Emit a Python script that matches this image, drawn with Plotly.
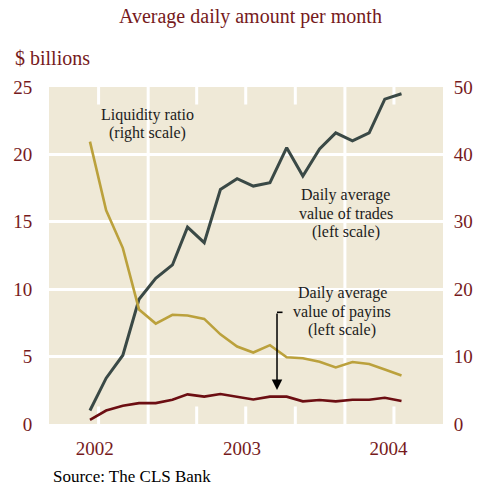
import plotly.graph_objects as go

# Monthly observations (mid-month), Sep 2002 - Apr 2004
months = [
    "2002-09-15", "2002-10-15", "2002-11-15", "2002-12-15",
    "2003-01-15", "2003-02-15", "2003-03-15", "2003-04-15",
    "2003-05-15", "2003-06-15", "2003-07-15", "2003-08-15",
    "2003-09-15", "2003-10-15", "2003-11-15", "2003-12-15",
    "2004-01-15", "2004-02-15", "2004-03-15", "2004-04-15",
]

# Daily average value of trades, $ billions (left scale)
trades = [1.0, 3.4, 5.1, 9.25, 10.8, 11.8, 14.6, 13.45, 17.4, 18.2,
          17.65, 17.9, 20.5, 18.4, 20.4, 21.6, 21.0, 21.6, 24.1, 24.5]

# Daily average value of payins, $ billions (left scale)
payins = [0.3, 1.0, 1.35, 1.55, 1.55, 1.8, 2.2, 2.03, 2.22, 2.03,
          1.82, 2.03, 2.03, 1.68, 1.78, 1.68, 1.8, 1.8, 1.95, 1.71]

# Liquidity ratio (right scale)
liquidity = [41.9, 31.7, 26.1, 17.0, 14.9, 16.2, 16.1, 15.6, 13.3, 11.5,
             10.6, 11.7, 9.9, 9.75, 9.25, 8.4, 9.2, 8.9, 8.1, 7.2]

left_ticks = [0, 5, 10, 15, 20, 25]
right_ticks = [0, 10, 20, 30, 40, 50]
year_ticks = ["2002-09-24", "2003-06-24", "2004-03-22"]
year_labels = ["2002", "2003", "2004"]
quarter_marks = ["2002-10-01", "2003-04-01", "2003-07-01", "2003-10-01", "2004-04-01"]
year_lines = ["2003-01-01", "2004-01-01"]

FONT = "Liberation Serif"
RED = "#761a1c"
INK = "#1c1c1c"
BG = "#efe9d7"

fig = go.Figure()
fig.add_trace(go.Scatter(x=months, y=trades, mode="lines",
                         line=dict(color="#3a4946", width=3), yaxis="y"))
fig.add_trace(go.Scatter(x=months, y=payins, mode="lines",
                         line=dict(color="#6c0e12", width=2.6), yaxis="y"))
fig.add_trace(go.Scatter(x=months, y=liquidity, mode="lines",
                         line=dict(color="#bba13c", width=2.6), yaxis="y2"))

shapes = []
# short white tick marks at quarter starts, top and bottom of the panel
for d in quarter_marks:
    shapes.append(dict(type="line", xref="x", yref="paper", x0=d, x1=d,
                       y0=0, y1=0.052, line=dict(color="white", width=3),
                       layer="below"))
    shapes.append(dict(type="line", xref="x", yref="paper", x0=d, x1=d,
                       y0=0.948, y1=1, line=dict(color="white", width=3),
                       layer="below"))
# full-height white lines at year boundaries
for d in year_lines:
    shapes.append(dict(type="line", xref="x", yref="paper", x0=d, x1=d,
                       y0=0, y1=1, line=dict(color="white", width=3),
                       layer="below"))
# small horizontal stub at the top of the payins pointer
shapes.append(dict(type="line", xref="paper", yref="paper",
                   x0=0.5787, x1=0.5927, y0=0.3314, y1=0.3314,
                   line=dict(color="black", width=1.6)))

annotations = []


def text(t, x, y, size=16, color=INK, xanchor="center"):
    annotations.append(dict(text=t, x=x, y=y, xref="paper", yref="paper",
                            showarrow=False, xanchor=xanchor, yanchor="middle",
                            font=dict(family=FONT, size=size, color=color)))


text("Average daily amount per month", 0.512, 1.208, size=20, color=RED)
text("$ billions", -0.0914, 1.086, size=20, color=RED, xanchor="left")
text("Source: The CLS Bank", 0.005, -0.156, size=17, color="black", xanchor="left")

text("Liquidity ratio", 0.249, 0.917)
text("(right scale)", 0.250, 0.864)

text("Daily average", 0.753, 0.680)
text("value of trades", 0.753, 0.626)
text("(left scale)", 0.753, 0.570)

text("Daily average", 0.744, 0.390)
text("value of payins", 0.744, 0.333)
text("(left scale)", 0.744, 0.279)

# pointer from the payins label down to the line
annotations.append(dict(text="", x=0.5787, y=0.1009, xref="paper", yref="paper",
                        showarrow=True, ax=0, ay=-78, arrowhead=2,
                        arrowsize=1.4, arrowwidth=1.5, arrowcolor="black"))

fig.update_layout(
    width=479, height=495,
    margin=dict(l=49, r=36, t=87, b=71, autoexpand=False),
    paper_bgcolor="white",
    plot_bgcolor=BG,
    showlegend=False,
    font=dict(family=FONT, color=RED),
    shapes=shapes,
    annotations=annotations,
    xaxis=dict(type="date", range=["2002-07-01", "2004-07-01"],
               tickvals=year_ticks, ticktext=year_labels,
               showgrid=False, zeroline=False, showline=False,
               ticks="outside", ticklen=7, tickcolor="rgba(0,0,0,0)",
               tickfont=dict(family=FONT, size=19, color=RED),
               automargin=False, fixedrange=True),
    yaxis=dict(range=[0, 25], tickvals=left_ticks,
               showgrid=True, gridcolor="white", gridwidth=3,
               zeroline=False, showline=False,
               ticks="outside", ticklen=12, tickcolor="rgba(0,0,0,0)",
               tickfont=dict(family=FONT, size=19, color=RED),
               automargin=False),
    yaxis2=dict(range=[0, 50], tickvals=right_ticks, overlaying="y",
                side="right", showgrid=False, zeroline=False, showline=False,
                ticks="outside", ticklen=6, tickcolor="rgba(0,0,0,0)",
                tickfont=dict(family=FONT, size=19, color=RED),
                automargin=False),
)

fig.write_html("out.html")
